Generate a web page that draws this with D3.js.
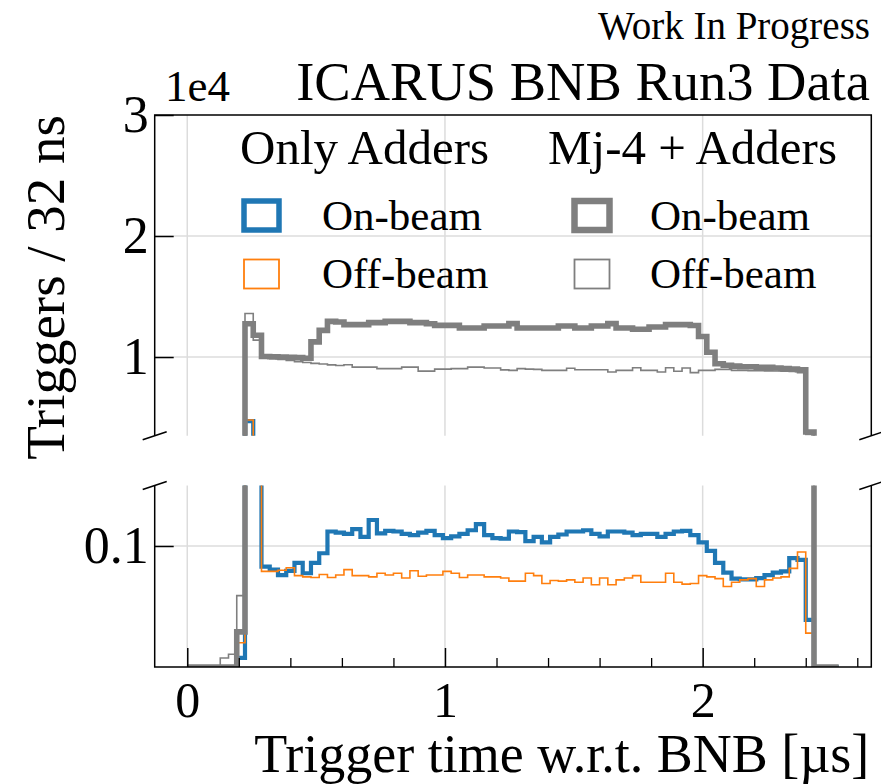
<!DOCTYPE html>
<html><head><meta charset="utf-8">
<script src="https://cdn.jsdelivr.net/npm/d3@7"></script>
<style>
body{margin:0;background:#fff}
text{font-family:"Liberation Serif","Times New Roman",serif;fill:#000}
</style>
</head><body>
<svg id="c" width="881" height="784"></svg>
<script>
// ---------------- DATA ----------------
const binWidthUs = 0.032;          // 32 ns bins
const nBins = 79;
// Only Adders, on-beam (blue)
const onBeamAdders = [0,0,0,0,0,0,75,4700,2500,830,805,760,795,860,775,860,940,1120,1110,1100,
 1140,1075,1215,1105,1125,1120,1100,1090,1110,1125,1090,1065,1080,1100,1130,1180,1090,1065,1060,1120,
 1115,1040,1075,1030,1075,1095,1120,1120,1130,1100,1080,1120,1120,1110,1090,1100,1100,1075,1100,1120,
 1125,1090,1030,960,860,780,730,725,725,735,760,780,790,900,885,390,0,0,0];
// Only Adders, off-beam (orange)
const offBeamAdders = [0,0,0,0,0,0,200,4800,2600,790,790,800,820,755,745,740,765,740,760,805,
 755,755,745,775,760,775,735,795,750,760,760,790,775,740,760,760,745,745,735,710,
 710,775,755,690,715,710,720,700,735,680,735,680,720,735,755,700,700,700,775,700,
 685,690,755,745,730,665,700,720,730,665,720,735,745,815,950,280,0,0,0];
// Mj-4 + Adders, on-beam (gray thick)
const onBeamMj4 = [0,0,0,0,0,0,290,12750,11800,10050,10020,10000,9980,9950,9900,11250,12200,12950,12890,12680,
 12680,12680,12840,12840,12950,12950,12950,12840,12840,12750,12620,12620,12620,12400,12400,12400,12570,12570,12570,12760,
 12400,12400,12400,12400,12400,12570,12570,12400,12400,12570,12570,12760,12400,12400,12290,12290,12480,12480,12680,12680,
 12680,12600,11700,10400,9450,9320,9250,9200,9200,9150,9150,9100,9050,9000,8950,3800,0,0,0];
// Mj-4 + Adders, off-beam (gray thin)
const offBeamMj4 = [0,0,0,0,75,105,590,13600,11400,9950,9870,9800,9720,9620,9550,9480,9420,9350,9300,9360,
 9170,9170,9170,9040,9040,9040,9170,9170,8840,8840,9000,9000,9040,9040,9170,9170,9100,9100,8940,8900,
 9040,9000,8980,8900,8900,8900,9070,8950,8950,8950,8950,8760,8900,8900,9120,8900,8900,8760,9120,8820,
 9090,8710,8900,8900,8980,8980,8900,8900,8880,8880,8860,8850,8820,8800,8700,3600,0,0,0];

const xMajorTicks = [0, 1, 2];
const xMinorTicks = [0.2,0.4,0.6,0.8,1.2,1.4,1.6,1.8,2.2,2.4,2.6];
const yTopTicks = [10000, 20000, 30000];
const yTopTickLabels = ["1", "2", "3"];
const yBotTicks = [1000];
const yBotTickLabels = ["0.1"];
const groupTitles = ["Only Adders", "Mj-4 + Adders"];
const entryLabels = ["On-beam", "Off-beam"];

// ---------------- LAYOUT ----------------
const svg = d3.select("#c");
const L = 154.7, R = 871.3;
const topT = 115, topB = 435.7, botT = 485.5, botB = 667;
const edges = d3.range(nBins + 1).map(i => i * binWidthUs);
const x = d3.scaleLinear().domain([-0.1264, 2.6544]).range([L, R]);
const yTop = d3.scaleLinear().domain([3500, 30000]).range([topB, topT]);
const yBot = d3.scaleLinear().domain([0, 1500]).range([botB, botT]);

const gridColor = "#dcdcdc";
const defs = svg.append("defs");
defs.append("clipPath").attr("id","clipTop").append("rect")
  .attr("x",L).attr("y",topT).attr("width",R-L).attr("height",topB-topT);
defs.append("clipPath").attr("id","clipBot").append("rect")
  .attr("x",L).attr("y",botT).attr("width",R-L).attr("height",botB-botT);

function stepPath(vals, y){
  const pts = [[x(edges[0]), y(0)]];
  vals.forEach((v,i)=>{ pts.push([x(edges[i]), y(v)]); pts.push([x(edges[i+1]), y(v)]); });
  pts.push([x(edges[nBins]), y(0)]);
  return d3.line()(pts);
}

const series = [
  {vals: onBeamAdders, color:"#1f77b4", w:4.2, lw:5.5},
  {vals: offBeamAdders, color:"#ff7f0e", w:1.6, lw:1.8},
  {vals: onBeamMj4, color:"#7f7f7f", w:5.6, lw:6.5},
  {vals: offBeamMj4, color:"#7f7f7f", w:1.6, lw:1.8},
];

function panel(y, t, b, clip, yTicks, yLabels){
  const g = svg.append("g");
  xMajorTicks.forEach(v => g.append("line").attr("x1",x(v)).attr("x2",x(v)).attr("y1",t).attr("y2",b)
    .attr("stroke",gridColor).attr("stroke-width",1.5));
  yTicks.forEach(v => { if (y(v) > t + 1) g.append("line").attr("x1",L).attr("x2",R).attr("y1",y(v)).attr("y2",y(v))
    .attr("stroke",gridColor).attr("stroke-width",1.5); });
  const dg = g.append("g").attr("clip-path",`url(#${clip})`);
  series.forEach(s => dg.append("path").attr("d", stepPath(s.vals, y)).attr("fill","none")
    .attr("stroke", s.color).attr("stroke-width", s.w).attr("stroke-linejoin","miter"));
  const ax = d3.axisLeft(y).tickValues(yTicks).tickSize(-19).tickPadding(6)
    .tickFormat((d,i)=>yLabels[i]);
  const ag = g.append("g").attr("transform",`translate(${L},0)`).call(ax);
  ag.select(".domain").remove();
  ag.selectAll(".tick line").attr("stroke","#000").attr("stroke-width",1.5);
  ag.selectAll(".tick text").style("font-size","52px");
  return g;
}

panel(yTop, topT, topB, "clipTop", yTopTicks, yTopTickLabels);
panel(yBot, botT, botB, "clipBot", yBotTicks, yBotTickLabels);

const xa = d3.axisBottom(x).tickValues(xMajorTicks).tickSize(-19).tickPadding(14).tickFormat(d3.format("d"));
const xg = svg.append("g").attr("transform",`translate(0,${botB})`).call(xa);
xg.select(".domain").remove();
xg.selectAll(".tick line").attr("stroke","#000").attr("stroke-width",1.5);
xg.selectAll(".tick text").style("font-size","50px");
const xm = d3.axisBottom(x).tickValues(xMinorTicks).tickSize(-9).tickFormat("");
const xmg = svg.append("g").attr("transform",`translate(0,${botB})`).call(xm);
xmg.select(".domain").remove();
xmg.selectAll(".tick line").attr("stroke","#000").attr("stroke-width",1.3);

const sp = svg.append("g").attr("stroke","#000").attr("stroke-width",1.5).attr("fill","none");
sp.append("path").attr("d",`M${L},${topB}V${topT}H${R}V${topB}`);
sp.append("path").attr("d",`M${L},${botT}V${botB}H${R}V${botT}`);
[[L,topB],[R,topB],[L,botT],[R,botT]].forEach(([cx,cy]) =>
  sp.append("line").attr("x1",cx-12).attr("y1",cy+4).attr("x2",cx+12).attr("y2",cy-4));

svg.append("text").attr("x",R-2).attr("y",772).attr("text-anchor","end").style("font-size","54px")
  .text("Trigger time w.r.t. BNB [\u00b5s]");
svg.append("text").attr("transform",`translate(64,${topT}) rotate(-90)`).attr("text-anchor","end")
  .style("font-size","55px").text("Triggers / 32 ns");
svg.append("text").attr("x",165).attr("y",101).style("font-size","45px").text("1e4");
svg.append("text").attr("x",870).attr("y",100).attr("text-anchor","end").style("font-size","54.5px")
  .text("ICARUS BNB Run3 Data");
svg.append("text").attr("x",870).attr("y",39).attr("text-anchor","end").style("font-size","39px")
  .text("Work In Progress");

const lg = svg.append("g");
const cols = [{tx:240, hx:261.5, lx:322, s:[series[0],series[1]]},{tx:548, hx:592, lx:650, s:[series[2],series[3]]}];
cols.forEach((c,ci)=>{
  lg.append("text").attr("x",c.tx).attr("y",164).style("font-size","49px").text(groupTitles[ci]);
  [215.5, 274].forEach((cy,ri)=>{
    lg.append("rect").attr("x",c.hx-17.5).attr("y",cy-14.5).attr("width",35).attr("height",29)
      .attr("fill","none").attr("stroke",c.s[ri].color).attr("stroke-width",c.s[ri].lw)
      .attr("stroke-linejoin","miter");
    lg.append("text").attr("x",c.lx).attr("y",cy+14).style("font-size","43px").text(entryLabels[ri]);
  });
});
</script>
</body></html>
